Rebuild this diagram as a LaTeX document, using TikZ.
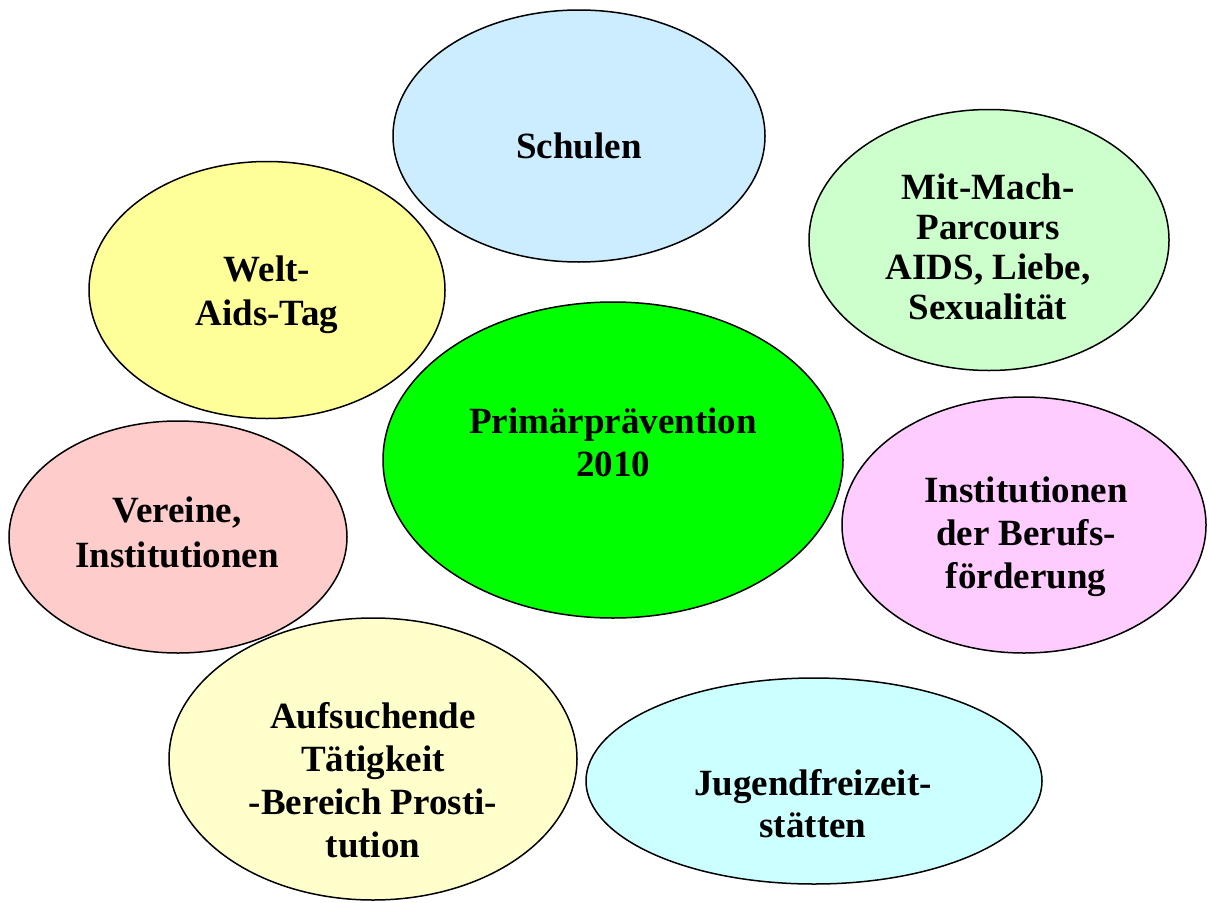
\documentclass[tikz,border=0pt]{standalone}
\usepackage{fontspec}
\setmainfont{Liberation Serif}
\usetikzlibrary{shapes.geometric}
\definecolor{cSchulen}{HTML}{CCECFF}
\definecolor{cMit}{HTML}{CCFFCC}
\definecolor{cWelt}{HTML}{FFFF99}
\definecolor{cPrim}{HTML}{00FF00}
\definecolor{cVer}{HTML}{FFCCCC}
\definecolor{cInst}{HTML}{FFCCFF}
\definecolor{cAuf}{HTML}{FFFFCC}
\definecolor{cJug}{HTML}{CCFFFF}
\newcommand{\lbl}[2]{\fontsize{37}{#1}\selectfont\begin{tabular}[t]{@{}c@{}}#2\end{tabular}}
\tikzset{
  blob/.style={ellipse, draw=black, line width=1.5pt, inner sep=0pt},
  txt/.style={inner sep=0pt, anchor=base, font=\bfseries}
}
\begin{document}
\begin{tikzpicture}[x=1pt,y=-1pt]
\useasboundingbox (0,0) rectangle (1209,902);
% ellipses
\node[blob, fill=cSchulen, minimum width=372pt, minimum height=252pt] (schulen) at (579,136) {};
\node[blob, fill=cMit, minimum width=360pt, minimum height=261pt] (mit) at (989,240) {};
\node[blob, fill=cWelt, minimum width=356pt, minimum height=257pt] (welt) at (267,290) {};
\node[blob, fill=cPrim, minimum width=460pt, minimum height=316pt] (prim) at (613,460) {};
\node[blob, fill=cAuf, minimum width=408pt, minimum height=282pt] (auf) at (373,759) {};
\node[blob, fill=cVer, minimum width=338pt, minimum height=232pt] (ver) at (178,537) {};
\node[blob, fill=cInst, minimum width=364pt, minimum height=256pt] (inst) at (1024,525) {};
\node[blob, fill=cJug, minimum width=456pt, minimum height=206pt] (jug) at (814,781) {};
% labels
\node[txt] (tschulen) at (579,158) {\lbl{43}{Schulen}};
\node[txt] (tmit) at (988,199) {\lbl{40}{Mit-Mach-\\Parcours\\AIDS, Liebe,\\Sexualität}};
\node[txt] (twelt) at (267,281) {\lbl{44}{Welt-\\Aids-Tag}};
\node[txt] (tprim) at (613,433) {\lbl{43}{Primärprävention\\2010}};
\node[txt] (tver) at (177,522) {\lbl{45}{Vereine,\\Institutionen}};
\node[txt] (tinst) at (1026,502) {\lbl{43}{Institutionen\\der Berufs-\\förderung}};
\node[txt] (tauf) at (373,728) {\lbl{43}{Aufsuchende\\Tätigkeit\\-Bereich Prosti-\\tution}};
\node[txt] (tjug) at (813,795) {\lbl{42}{Jugendfreizeit-\\stätten}};
\end{tikzpicture}
\end{document}
